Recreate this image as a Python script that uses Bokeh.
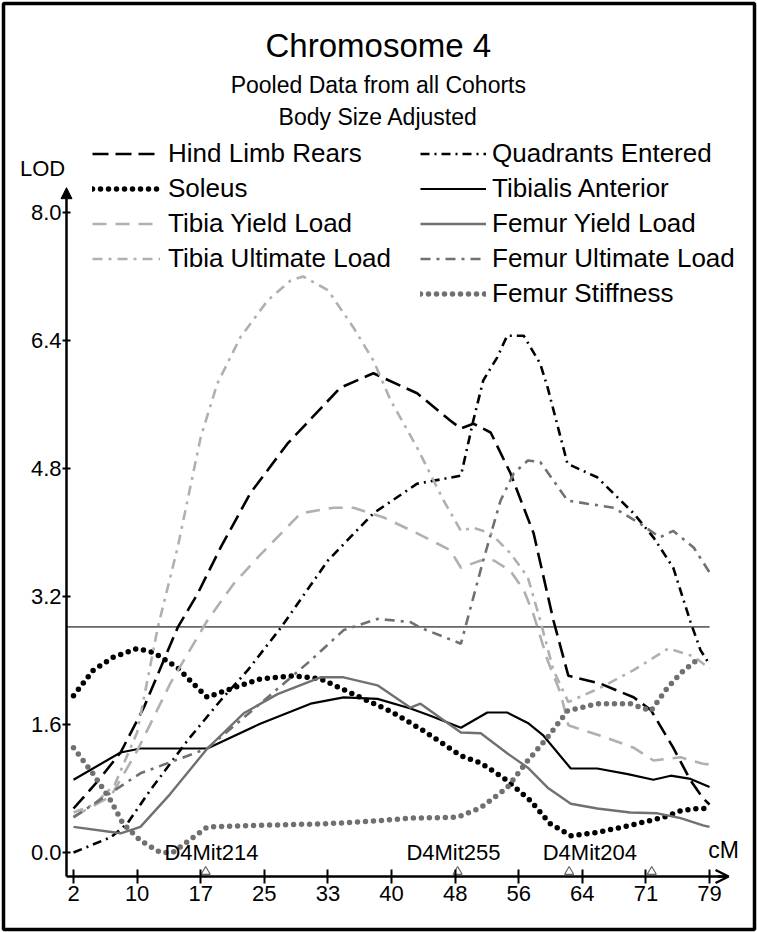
from bokeh.plotting import figure
from bokeh.models import (Range1d, FixedTicker, Legend, LegendItem, Arrow,
                          NormalHead, OpenHead, ColumnDataSource)
from bokeh.core.properties import value
from bokeh.embed import file_html
from bokeh.resources import INLINE

# ---------------- data ----------------
cm_ticks = [2.0, 9.7, 17.4, 25.1, 32.8, 40.5, 48.2, 55.9, 63.6, 71.3, 79.0]
cm_tick_labels = ["2", "10", "17", "25", "33", "40", "48", "56", "64", "71", "79"]
lod_ticks = [0.0, 1.6, 3.2, 4.8, 6.4, 8.0]
lod_tick_labels = ["0.0", "1.6", "3.2", "4.8", "6.4", "8.0"]

threshold_lod = 2.82
marker_cm = [18.0, 48.5, 62.0, 72.0]
marker_names = ["D4Mit214", "D4Mit255", "D4Mit204"]
marker_label_cm = [18.7, 48.0, 64.5]

hind_x = [2, 5, 7.7, 10.5, 14.6, 17, 19.8, 23.4, 27.9, 34.3, 38.3, 43.6, 47.6, 48.9, 50.4,
          52.5, 54.9, 57.7, 60.1, 61.9, 65.8, 69.8, 71.9, 74.6, 76.7, 78.2, 79]
hind_y = [0.55, 0.9, 1.25, 1.81, 2.81, 3.23, 3.81, 4.49, 5.11, 5.81, 5.99, 5.74, 5.4, 5.3, 5.36,
          5.25, 4.74, 3.99, 2.9, 2.21, 2.11, 1.94, 1.78, 1.31, 0.9, 0.68, 0.6]

quad_x = [2, 6.5, 8.5, 11.3, 15.8, 19.8, 23.1, 27.1, 32.8, 38.3, 43.6, 48.9, 50.4, 51.6, 53.3,
          54.5, 56.5, 58.5, 59.4, 61.8, 65.4, 69.8, 72.2, 74.6, 76.7, 77.9, 79]
quad_y = [0.0, 0.19, 0.36, 0.78, 1.4, 1.9, 2.28, 2.81, 3.65, 4.24, 4.61, 4.71, 5.4, 5.9, 6.19,
          6.46, 6.46, 6.11, 5.81, 4.86, 4.69, 4.24, 3.94, 3.56, 2.88, 2.53, 2.35]

soleus_x = [2, 4.4, 6.8, 9.7, 11.7, 14.6, 16.5, 18.2, 20.6, 24.6, 28.6, 31.9, 36.7, 40.5, 44.4,
            48.9, 51.3, 54.5, 57.3, 59.7, 62.2, 65.4, 69.4, 73.4, 75.5, 77.5, 79]
soleus_y = [1.96, 2.28, 2.44, 2.55, 2.5, 2.31, 2.11, 1.94, 2.03, 2.17, 2.21, 2.17, 1.94, 1.76, 1.52,
            1.21, 1.12, 0.9, 0.65, 0.36, 0.21, 0.25, 0.34, 0.44, 0.52, 0.55, 0.55]

tibant_x = [2, 7.7, 10.1, 18.2, 24.6, 30.7, 34.7, 38.8, 42.8, 45.2, 48.9, 52.1, 54.5, 57, 58.9,
            62.2, 65.4, 69.1, 72.2, 74.3, 76.7, 79]
tibant_y = [0.91, 1.25, 1.3, 1.3, 1.61, 1.86, 1.94, 1.92, 1.8, 1.71, 1.56, 1.75, 1.75, 1.62, 1.46,
            1.05, 1.05, 0.98, 0.91, 0.96, 0.92, 0.82]

tyield_x = [2, 6.5, 9.7, 13.7, 15.8, 18.2, 21.4, 24.6, 29.5, 33.5, 35.9, 39.5, 43.6, 47.6, 48.9,
            51.3, 52.9, 54.9, 56.5, 57.7, 59.4, 61.0, 61.9, 65.8, 69.8, 72.2, 75.5, 78.2, 79]
tyield_y = [0.45, 0.7, 1.27, 2.11, 2.48, 2.9, 3.36, 3.72, 4.24, 4.31, 4.31, 4.19, 3.99, 3.78, 3.56,
            3.65, 3.65, 3.52, 3.28, 2.97, 2.4, 1.98, 1.59, 1.46, 1.31, 1.15, 1.19, 1.11, 1.1]

fyield_x = [2, 7.7, 10.1, 13.7, 18.2, 22.6, 26.7, 31.9, 34.7, 38.8, 42.8, 44, 48.9, 51.3, 54.5,
            57, 59.4, 62.2, 65.4, 69.4, 72.7, 75.5, 78.2, 79]
fyield_y = [0.32, 0.24, 0.32, 0.73, 1.3, 1.74, 1.98, 2.19, 2.19, 2.09, 1.81, 1.86, 1.5, 1.49, 1.24,
            1.06, 0.81, 0.61, 0.55, 0.5, 0.49, 0.43, 0.34, 0.32]

tult_x = [2, 4.5, 7, 9.7, 12.2, 14.6, 17.4, 19.4, 22.2, 25.5, 28.3, 29.8, 32.8, 35.9, 38.3, 40.4,
          43.6, 46.8, 48.9, 50.4, 52.5, 54.9, 57, 58.5, 60.1, 61.9, 65.8, 69.8, 74, 77.1, 79]
tult_y = [0.5, 0.6, 0.85, 1.5, 2.81, 3.81, 5.19, 5.86, 6.44, 6.9, 7.15, 7.2, 7.03, 6.56, 6.15, 5.65,
          5.06, 4.4, 4.02, 4.06, 3.99, 3.74, 3.44, 2.9, 2.28, 1.88, 2.06, 2.28, 2.55, 2.45, 2.3]

fult_x = [2, 10.1, 18.2, 24.6, 30.7, 34.7, 38.8, 42.8, 44, 48.9, 51.6, 53.7, 55.3, 57, 58.5, 60.1,
          61.8, 64.2, 67.4, 70.6, 73, 74.6, 77.1, 79]
fult_y = [0.44, 0.99, 1.3, 1.86, 2.4, 2.78, 2.92, 2.88, 2.81, 2.61, 3.65, 4.4, 4.74, 4.9, 4.88, 4.65,
          4.4, 4.36, 4.31, 4.11, 3.94, 4.02, 3.81, 3.5]

fstiff_x = [2, 4.4, 6.5, 8, 10.1, 12.5, 14, 16.5, 18.2, 24.6, 32.8, 39.2, 42.8, 48.5, 51.3, 54.5,
            57, 59.4, 61.8, 65.4, 69.4, 71.9, 73.9, 75.5, 77.1, 78]
fstiff_y = [1.31, 0.98, 0.65, 0.36, 0.15, 0.0, 0.0, 0.19, 0.32, 0.34, 0.36, 0.4, 0.43, 0.44, 0.56,
            0.81, 1.15, 1.44, 1.77, 1.86, 1.86, 1.77, 2.06, 2.24, 2.38, 2.42]

title_lines = ["Chromosome 4", "Pooled Data from all Cohorts", "Body Size Adjusted"]

# ---------------- figure ----------------
W, H = 757, 932
PAD = 3
AX_X0 = 1.15    # cM where the LOD axis sits
AX_Y0 = -0.3    # LOD where the cM axis sits
FONT = value("Liberation Sans")

p = figure(width=W, height=H, output_backend="svg", toolbar_location=None,
           x_range=Range1d(-6.475, 84.44), y_range=Range1d(-0.9625, 10.6125),
           min_border=PAD, title=None)
p.xgrid.visible = False
p.ygrid.visible = False
p.outline_line_color = "black"
p.outline_line_width = 3.5
p.background_fill_color = "white"
p.border_fill_color = "white"

xa = p.xaxis[0]
xa.fixed_location = AX_Y0
xa.bounds = (AX_X0, 81.0)
xa.ticker = FixedTicker(ticks=cm_ticks)
xa.major_label_overrides = {t: l for t, l in zip(cm_ticks, cm_tick_labels)}
xa.axis_line_width = 2.5
xa.major_tick_line_width = 2
xa.major_tick_in = 7
xa.major_tick_out = 7
xa.minor_tick_line_color = None
xa.major_label_standoff = 2
xa.major_label_text_font = "Liberation Sans"
xa.major_label_text_font_size = "22px"
xa.major_label_text_color = "black"

ya = p.yaxis[0]
ya.fixed_location = AX_X0
ya.bounds = (AX_Y0, 8.0)
ya.ticker = FixedTicker(ticks=lod_ticks)
ya.major_label_overrides = {t: l for t, l in zip(lod_ticks, lod_tick_labels)}
ya.axis_line_width = 2.5
ya.major_tick_line_width = 2
ya.major_tick_in = 4
ya.major_tick_out = 4
ya.minor_tick_line_color = None
ya.major_label_standoff = 1
ya.major_label_text_font = "Liberation Sans"
ya.major_label_text_font_size = "22px"
ya.major_label_text_color = "black"

p.add_layout(Arrow(end=NormalHead(size=11, fill_color="black", line_color="black"),
                   x_start=AX_X0, y_start=8.0, x_end=AX_X0, y_end=8.31,
                   line_width=2.5, line_color="black"))
p.add_layout(Arrow(end=OpenHead(size=13, line_width=2.5, line_color="black"),
                   x_start=80.0, y_start=AX_Y0, x_end=81.3, y_end=AX_Y0,
                   line_width=2.5, line_color="black"))

# threshold
p.line(x=[AX_X0, cm_ticks[-1]], y=[threshold_lod, threshold_lod], line_color="#666666", line_width=1.6)

# marker carets
p.scatter(x=marker_cm, y=[AX_Y0 + 0.06] * len(marker_cm), marker="triangle", size=9,
          fill_color=None, line_color="#666666", line_width=1.2)

BLACK, LIGHT, DARK = "black", "#b0b0b0", "#707070"
series = [
    ("Hind Limb Rears", hind_x, hind_y, dict(line_color=BLACK, line_width=2.6, line_dash="16 7")),
    ("Quadrants Entered", quad_x, quad_y, dict(line_color=BLACK, line_width=2.6, line_dash="9 5 2 5")),
    ("Soleus", soleus_x, soleus_y, dict(line_color=BLACK, line_width=5.5, line_dash="0 8", line_cap="round")),
    ("Tibialis Anterior", tibant_x, tibant_y, dict(line_color=BLACK, line_width=2.2)),
    ("Tibia Yield Load", tyield_x, tyield_y, dict(line_color=LIGHT, line_width=2.6, line_dash="14 9")),
    ("Femur Yield Load", fyield_x, fyield_y, dict(line_color=DARK, line_width=2.4)),
    ("Tibia Ultimate Load", tult_x, tult_y, dict(line_color=LIGHT, line_width=2.6, line_dash="10 6 3 6")),
    ("Femur Ultimate Load", fult_x, fult_y, dict(line_color=DARK, line_width=2.6, line_dash="10 6 3 6")),
    ("Femur Stiffness", fstiff_x, fstiff_y, dict(line_color=DARK, line_width=5.5, line_dash="0 8", line_cap="round")),
]
rend = {}
for name, xs, ys, st in series:
    rend[name] = p.line(x=xs, y=ys, **st)

col1 = ["Hind Limb Rears", "Soleus", "Tibia Yield Load", "Tibia Ultimate Load"]
col2 = ["Quadrants Entered", "Tibialis Anterior", "Femur Yield Load", "Femur Ultimate Load", "Femur Stiffness"]

def make_legend(names, loc, gw, standoff):
    lg = Legend(items=[LegendItem(label=n, renderers=[rend[n]]) for n in names],
                location=loc, orientation="vertical", padding=0, margin=0, spacing=0,
                glyph_width=gw, glyph_height=35, label_height=35, label_standoff=standoff,
                border_line_color=None, background_fill_alpha=0,
                label_text_font="Liberation Sans", label_text_font_size="26px",
                label_text_color="black")
    p.add_layout(lg, "center")

# legend location = bottom-left corner, in px from the frame's bottom-left
make_legend(col1, (89, 653), 68, 8)
make_legend(col2, (417, 618), 66, 6)

# titles
tsrc = ColumnDataSource(dict(x=[38.9] * 3, y=[10.09, 9.59, 9.19], t=title_lines,
                             s=["33px", "23px", "23px"]))
p.text(x="x", y="y", text="t", source=tsrc, text_font=FONT, text_font_size="s",
       text_align="center", text_baseline="middle", text_color="black")

# axis names
p.text(x=[-1.75], y=[8.55], text=["LOD"], text_font=FONT, text_font_size="22px",
       text_align="center", text_baseline="middle", text_color="black")
p.text(x=[80.7], y=[0.03], text=["cM"], text_font=FONT, text_font_size="23px",
       text_align="center", text_baseline="middle", text_color="black")

# marker labels
p.text(x=marker_label_cm, y=[0.0] * len(marker_names), text=marker_names, text_font=FONT,
       text_font_size="22px", text_align="center", text_baseline="middle", text_color="black")

open("out.html", "w").write(file_html(p, INLINE))
